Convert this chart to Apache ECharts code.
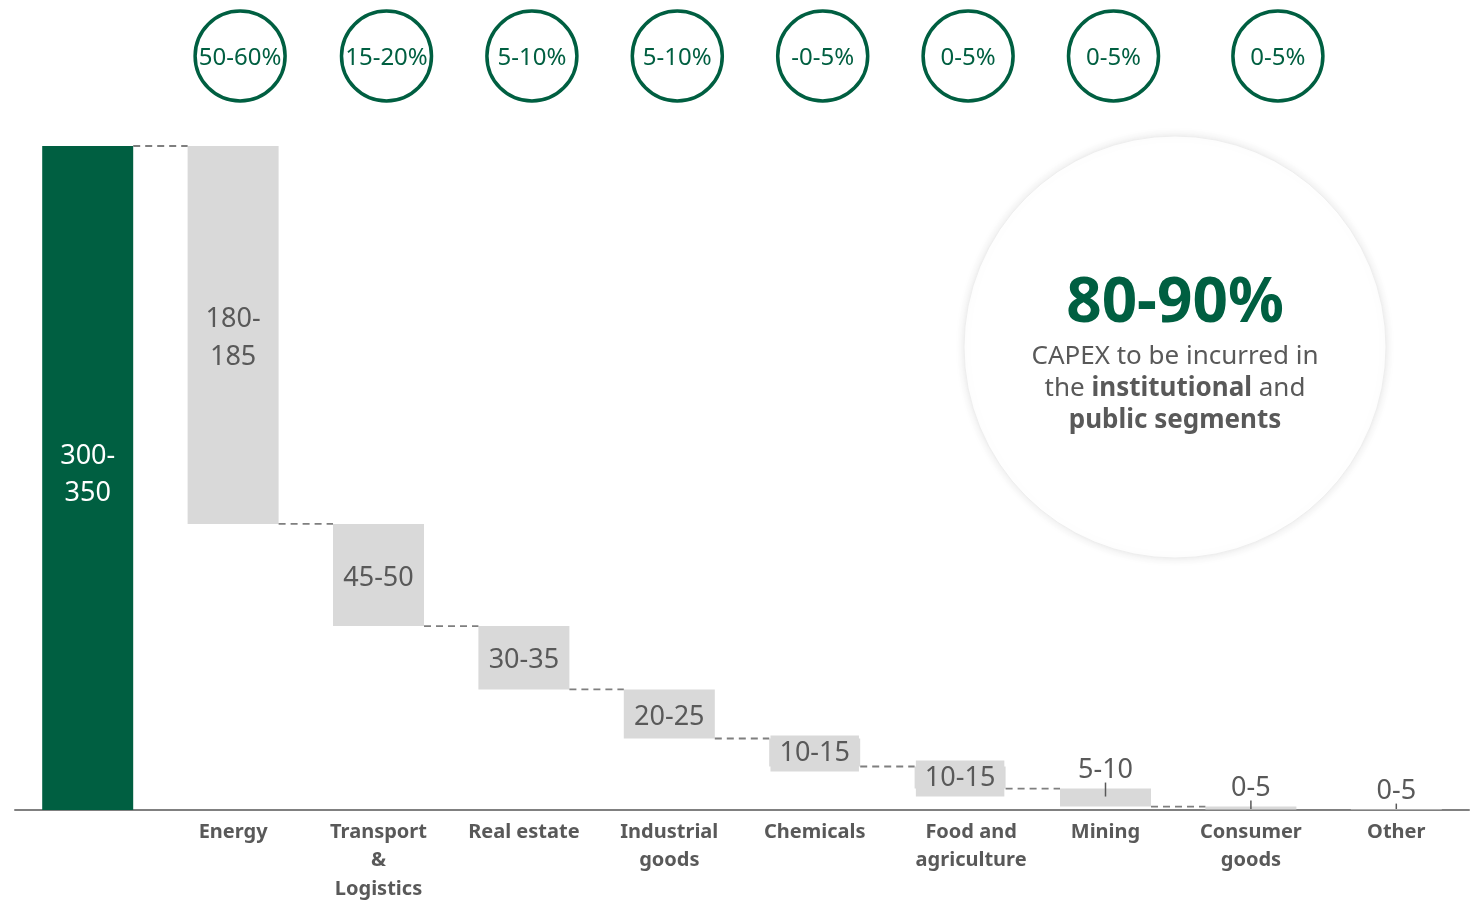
<!DOCTYPE html>
<html><head><meta charset="utf-8">
<script src="https://cdn.jsdelivr.net/npm/echarts@6/dist/echarts.min.js"></script>
<style>html,body{margin:0;padding:0;background:#fff}#c{width:1473px;height:902px}</style>
</head><body><div id="c"></div>
<script>
// ---- data ----
const categories = ['', 'Energy', 'Transport\n&\nLogistics', 'Real estate', 'Industrial\ngoods', 'Chemicals', 'Food and\nagriculture', 'Mining', 'Consumer\ngoods', 'Other'];
const totalValue = 325;
const stepValues = [185, 50, 31, 24, 13.7, 10.8, 8.8, 1.5, 0.2];
const valueLabels = ['300-\n350', '180-\n185', '45-50', '30-35', '20-25', '10-15', '10-15', '5-10', '0-5', '0-5'];
const shareCategories = [1, 2, 3, 4, 5, 6, 7, 8];
const shareLabels = ['50-60%', '15-20%', '5-10%', '5-10%', '-0-5%', '0-5%', '0-5%', '0-5%'];
const headline = '80-90%';

// ---- derived ----
const bases = [0];
const heights = [totalValue];
let run = totalValue;
stepValues.forEach(v => { run -= v; bases.push(run); heights.push(v); });
const tops = bases.map((b, i) => b + heights[i]);

const GREEN = '#005f41', GREY = '#595959', BAR = '#d9d9d9';
const FONT = 'Noto Sans';
const BAR_W = 91;
const badgeOffsets = [7, 8, 8, 8, 8, 8, 8, 27];

const valueData = heights.map((h, i) => {
  const item = { value: h, itemStyle: { color: i === 0 ? GREEN : BAR } };
  const lbl = { show: true, formatter: valueLabels[i], fontFamily: FONT, fontSize: 27, color: GREY, lineHeight: 38, offset: [0, 3] };
  if (i === 0) { lbl.position = 'inside'; lbl.color = '#fff'; lbl.lineHeight = 37; lbl.offset = [0, -3]; }
  else if (i <= 4) { lbl.position = 'inside'; }
  else if (i <= 6) { lbl.position = 'inside'; lbl.backgroundColor = BAR; lbl.padding = [3, 9, 1, 9]; lbl.lineHeight = 32; lbl.offset = [0, 1]; }
  else { lbl.position = 'top'; lbl.distance = 0; lbl.offset = [0, 1]; }
  item.label = lbl;
  return item;
});

const connectorData = [];
for (let i = 0; i < categories.length - 2; i++) connectorData.push([i, i === 0 ? tops[0] : bases[i]]);
const tickData = [7, 8, 9].map(i => [i, tops[i]]);

const axisCats = categories.map((c, i) => i === 6 ? { value: c, textStyle: { padding: [0, 0, 0, 22] } } : c);

const chart = echarts.init(document.getElementById('c'), null, { renderer: 'canvas' });
chart.setOption({
  animation: false,
  backgroundColor: '#fff',
  grid: [
    { left: 15, right: 4, top: 146, bottom: 92, containLabel: false, outerBoundsMode: 'none' },
    { left: 15, right: 4, top: 10, height: 92, containLabel: false, outerBoundsMode: 'none' }
  ],
  xAxis: [
    { type: 'category', data: axisCats, gridIndex: 0,
      axisLine: { lineStyle: { color: '#808080', width: 2 } }, axisTick: { show: false },
      axisLabel: { interval: 0, margin: 8, color: GREY, fontFamily: FONT, fontWeight: 'bold', fontSize: 20, lineHeight: 28.5 } },
    { type: 'category', data: categories, gridIndex: 1, show: false }
  ],
  yAxis: [
    { type: 'value', min: 0, max: totalValue, show: false, gridIndex: 0 },
    { type: 'value', min: 0, max: 1, show: false, gridIndex: 1 }
  ],
  graphic: [
    { type: 'circle', z: 0, shape: { cx: 1175, cy: 347, r: 211 },
      style: { fill: '#fff', stroke: '#eeeeee', lineWidth: 1, shadowBlur: 10, shadowColor: 'rgba(0,0,0,0.10)' } },
    { type: 'text', z: 1, style: { text: headline, x: 1175, y: 304, textAlign: 'center', textVerticalAlign: 'middle',
      fontFamily: FONT, fontWeight: 'bold', fontSize: 62, fill: GREEN } },
    { type: 'text', z: 1, style: { text: '{n|CAPEX to be incurred in}\n{n|the }{b|institutional}{n| and}\n{b|public segments}',
      x: 1175, y: 389, textAlign: 'center', textVerticalAlign: 'middle', fill: GREY,
      rich: { n: { fontFamily: FONT, fontSize: 26, color: GREY, lineHeight: 32 },
              b: { fontFamily: FONT, fontSize: 26, fontWeight: 'bold', color: GREY, lineHeight: 32 } } } }
  ],
  series: [
    { type: 'bar', stack: 'w', barWidth: BAR_W, data: bases, itemStyle: { color: 'transparent' }, silent: true },
    { type: 'bar', stack: 'w', barWidth: BAR_W, data: valueData },
    { type: 'custom', data: connectorData, z: 3,
      renderItem: (params, api) => {
        const i = api.value(0), lvl = api.value(1);
        const p1 = api.coord([i, lvl]), p2 = api.coord([i + 1, lvl]);
        return { type: 'line', shape: { x1: p1[0] + BAR_W / 2, y1: p1[1], x2: p2[0] - BAR_W / 2, y2: p1[1] },
          style: { stroke: '#7f7f7f', lineWidth: 1.8, lineDash: [7, 5] } };
      } },
    { type: 'custom', data: tickData, z: 4,
      renderItem: (params, api) => {
        const p = api.coord([api.value(0), api.value(1)]);
        const axisY = api.coord([0, 0])[1];
        return { type: 'line', shape: { x1: p[0], y1: p[1] - 6, x2: p[0], y2: Math.min(p[1] + 8, axisY - 1) },
          style: { stroke: GREY, lineWidth: 1.5 } };
      } },
    { type: 'scatter', xAxisIndex: 1, yAxisIndex: 1, symbol: 'circle', symbolSize: 90,
      itemStyle: { color: '#fff', borderColor: GREEN, borderWidth: 3.5, opacity: 1 },
      label: { show: true, position: 'inside', color: GREEN, fontFamily: FONT, fontSize: 24, offset: [0, 2] },
      data: shareCategories.map((c, i) => ({ value: [c, 0.5], symbolOffset: [badgeOffsets[i], 0],
        label: { formatter: shareLabels[i] } })) }
  ]
});
</script>
</body></html>
